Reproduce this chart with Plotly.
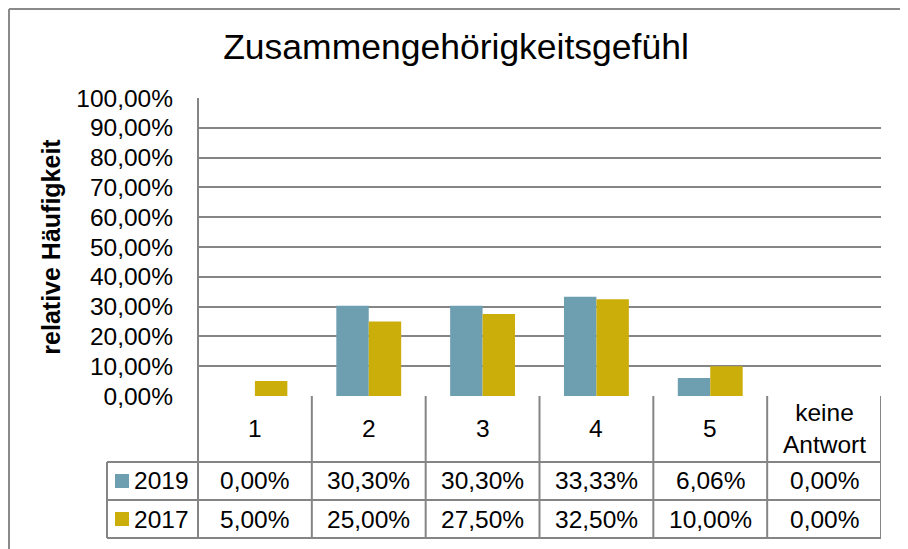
import plotly.graph_objects as go

# ---- data ----
categories = ["1", "2", "3", "4", "5", "keine<br>Antwort"]
series_names = ["2019", "2017"]
values_2019 = [0.0, 0.3030, 0.3030, 0.3333, 0.0606, 0.0]
values_2017 = [0.05, 0.25, 0.275, 0.325, 0.10, 0.0]
y_tick_values = [0.0, 0.1, 0.2, 0.3, 0.4, 0.5, 0.6, 0.7, 0.8, 0.9, 1.0]

title_text = "Zusammengehörigkeitsgefühl"
y_title = "relative Häufigkeit"

# ---- styling ----
W, H = 908, 549
OFF = 8                                # page body margin
L, R, T, B = 198 - OFF, 881 - OFF, 98 - OFF, 396 - OFF   # plot box in figure pixels
C2019 = "#6e9fb0"
C2017 = "#ccae0b"
GRID = "#858585"
FONT = "Liberation Sans, Arial, sans-serif"
FS = 24.5


def px(xp):
    """page pixel -> paper x"""
    return (xp - OFF - L) / (R - L)


def py(yp):
    """page pixel -> paper y"""
    return (B - (yp - OFF)) / (B - T)


def fmt(v):
    return f"{v * 100:.2f}".replace(".", ",") + "%"


x_idx = list(range(len(categories)))

fig = go.Figure()
fig.add_trace(go.Bar(x=x_idx, y=values_2019, name=series_names[0],
                     marker=dict(color=C2019, line=dict(width=0))))
fig.add_trace(go.Bar(x=x_idx, y=values_2017, name=series_names[1],
                     marker=dict(color=C2017, line=dict(width=0))))

# table geometry (page pixels)
row_tops = [396, 462, 500, 538]
legend_left = 107

shapes = []
line = dict(color=GRID, width=2)
for i in range(len(categories) + 1):
    shapes.append(dict(type="line", xref="x", yref="paper",
                       x0=i - 0.5, x1=i - 0.5,
                       y0=py(row_tops[0]), y1=py(row_tops[-1]), line=line))
shapes.append(dict(type="line", xref="paper", yref="paper", x0=0, x1=0,
                   y0=1, y1=py(row_tops[-1]), line=line))
for yp in row_tops[1:]:
    shapes.append(dict(type="line", xref="paper", yref="paper",
                       x0=px(legend_left), x1=1, y0=py(yp), y1=py(yp), line=line))
shapes.append(dict(type="line", xref="paper", yref="paper",
                   x0=px(legend_left), x1=px(legend_left),
                   y0=py(row_tops[1]), y1=py(row_tops[3]), line=line))
for k, col in enumerate([C2019, C2017]):
    yc = (row_tops[k + 1] + row_tops[k + 2]) / 2
    shapes.append(dict(type="rect", xref="paper", yref="paper",
                       x0=px(115), x1=px(129), y0=py(yc - 7), y1=py(yc + 7),
                       fillcolor=col, line=dict(width=0)))
# outer chart border (only top-left visible)
bx = OFF + 1
shapes.append(dict(type="line", xref="paper", yref="paper",
                   x0=px(bx), x1=px(bx), y0=py(bx), y1=py(600),
                   line=dict(color="#8a8a8a", width=2)))
shapes.append(dict(type="line", xref="paper", yref="paper",
                   x0=px(bx), x1=px(950), y0=py(bx), y1=py(bx),
                   line=dict(color="#8a8a8a", width=2)))

annotations = []
font = dict(family=FONT, size=FS, color="black")
cat_center = (row_tops[0] + row_tops[1]) / 2
for i, c in enumerate(categories):
    annotations.append(dict(x=i, xref="x", y=py(cat_center), yref="paper",
                            text=c, showarrow=False, font=font,
                            xanchor="center", yanchor="middle"))
for k, (name, vals) in enumerate(zip(series_names, [values_2019, values_2017])):
    yc = (row_tops[k + 1] + row_tops[k + 2]) / 2
    annotations.append(dict(x=px(132), xref="paper", y=py(yc), yref="paper",
                            text=name, showarrow=False, font=font,
                            xanchor="left", yanchor="middle"))
    for i, v in enumerate(vals):
        annotations.append(dict(x=i, xref="x", y=py(yc), yref="paper",
                                text=fmt(v), showarrow=False, font=font,
                                xanchor="center", yanchor="middle"))

fig.update_layout(
    width=W, height=H,
    margin=dict(l=L, r=W - R, t=T, b=H - B, pad=0),
    paper_bgcolor="white", plot_bgcolor="white",
    showlegend=False,
    barmode="group", bargap=0.43, bargroupgap=0,
    separators=",.",
    font=dict(family=FONT, size=FS, color="black"),
    title=dict(text=title_text, x=(456 - OFF) / W, xref="container", xanchor="center",
               y=1 - (47 - OFF) / H, yref="container", yanchor="middle",
               font=dict(family=FONT, size=35.5, color="black")),
    xaxis=dict(range=[-0.5, len(categories) - 0.5], showticklabels=False,
               showgrid=False, zeroline=False, showline=False, ticks=""),
    yaxis=dict(range=[0, 1], tickvals=y_tick_values, tickformat=".2%",
               showgrid=True, gridcolor=GRID, gridwidth=2,
               zeroline=False, showline=False, ticks="",
               ticklabelstandoff=24,
               tickfont=dict(family=FONT, size=FS, color="black"),
               title=dict(text="<b>" + y_title + "</b>", standoff=8,
                          font=dict(family=FONT, size=25, color="black"))),
    shapes=shapes,
    annotations=annotations,
)

fig.write_html("out.html")
